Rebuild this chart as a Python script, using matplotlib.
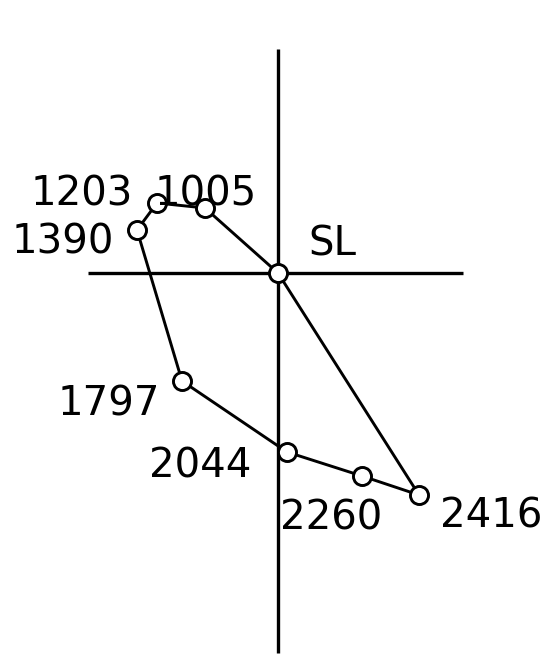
"""Closed loop trace around SL on a cross of axes, labelled by time."""

import matplotlib
matplotlib.use('Agg')
import matplotlib.pyplot as plt

# loop points, origin at SL (x right, y up)
labels = ['SL', '1005', '1203', '1390', '1797', '2044', '2260', '2416']
xs = [0, -73, -121, -141, -96, 9, 84, 141]
ys = [0, 65, 70, 43, -108, -179, -203, -222]

# label placement (pixel offset of text centre-x / baseline from the point)
_LABEL_OFF = {
    'SL': (54, 17), '1005': (1, 3), '1203': (-75, -2), '1390': (-74, -23),
    '1797': (-73, -34), '2044': (-87, -26), '2260': (-31, -54), '2416': (72, -32),
}

fig = plt.figure(figsize=(5.5, 6.63), dpi=100)
ax = fig.add_axes([0, 0, 1, 1])
ax.set_xlim(-278, 272)
ax.set_ylim(-390, 273)
ax.axis('off')

# cross hairs through SL
ax.plot([0, 0], [224, -380], color='black', lw=2.4, solid_capstyle='butt', zorder=1)
ax.plot([-190, 185], [0, 0], color='black', lw=2.4, solid_capstyle='butt', zorder=1)

# closed loop
ax.plot(xs + xs[:1], ys + ys[:1], color='black', lw=2.1, zorder=2)
ax.plot(xs, ys, 'o', ms=13, mfc='white', mec='black', mew=2.1, zorder=3)

for lab, x, y in zip(labels, xs, ys):
    dx, dy = _LABEL_OFF[lab]
    ax.annotate(lab, (x, y), xytext=(dx, dy), textcoords='offset pixels',
                ha='center', va='baseline', fontsize=29,
                family='DejaVu Sans', color='black')

fig.savefig('out.png', dpi=100, facecolor='white')
plt.close(fig)
